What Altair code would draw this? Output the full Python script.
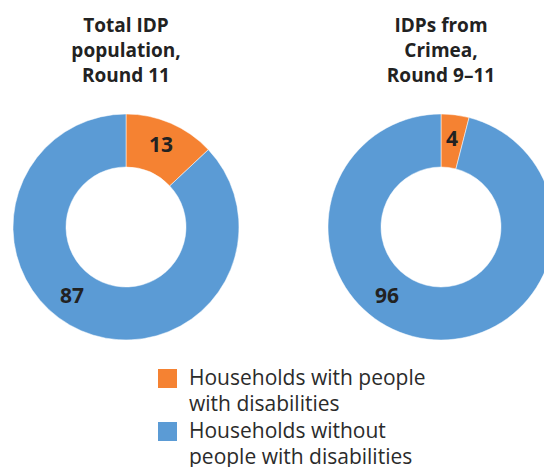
import altair as alt
import pandas as pd

# ---- data ----
panel_titles = [["Total IDP", "population,", "Round 11"], ["IDPs from", "Crimea,", "Round 9–11"]]
categories = ["Households with people with disabilities", "Households without people with disabilities"]
legend_lines = [["Households with people", "with disabilities"], ["Households without", "people with disabilities"]]
with_disab = [13, 4]
without_disab = [87, 96]

colors = ["#F58232", "#5B9BD5"]
FONT = "Open Sans"

label_expr = "datum.label == '%s' ? ['%s', '%s'] : ['%s', '%s']" % (
    categories[0], legend_lines[0][0], legend_lines[0][1], legend_lines[1][0], legend_lines[1][1]
)

CX, CY = 126, 113          # donut centre inside each panel
PANEL_W = [252, 229]        # second panel is cut at the page edge
TITLE_DX = [0, CX - PANEL_W[1] / 2]


def panel(i):
    df = pd.DataFrame({
        "category": categories,
        "value": [with_disab[i], without_disab[i]],
        "order": [0, 1],
    })
    base = alt.Chart(df)
    arcs = base.mark_arc(innerRadius=60, outerRadius=113, stroke="white", strokeWidth=0.5, clip=True).encode(
        x=alt.value(CX),
        y=alt.value(CY),
        theta=alt.Theta("value:Q", stack=True),
        order=alt.Order("order:Q"),
        color=alt.Color(
            "category:N",
            scale=alt.Scale(domain=categories, range=colors),
            legend=alt.Legend(
                title=None,
                orient="none",
                legendX=157,
                legendY=254,
                direction="vertical",
                symbolType="square",
                symbolSize=361,
                symbolStrokeWidth=0,
                labelFont=FONT,
                labelFontSize=21,
                labelColor="#2b2b2b",
                labelOffset=11,
                labelLimit=400,
                labelExpr=label_expr,
                padding=0,
                rowPadding=5,
            ),
        ),
    )
    labels = base.transform_calculate(
        labelPos="datum.order == 0 ? datum.value / 2 : 60.5"
    ).mark_text(
        radius=88, font=FONT, fontSize=21, fontWeight="bold", color="#222222"
    ).encode(
        x=alt.value(CX),
        y=alt.value(CY),
        theta=alt.Theta("labelPos:Q", stack=False, scale=alt.Scale(domain=[0, 100])),
        text=alt.Text("value:Q"),
    )
    return alt.layer(arcs, labels).properties(
        width=PANEL_W[i],
        height=226,
        title=alt.TitleParams(
            text=panel_titles[i],
            font=FONT,
            fontSize=19,
            fontWeight="bold",
            color="#222222",
            lineHeight=25,
            anchor="middle",
            offset=28,
            dx=TITLE_DX[i],
        ),
    )


chart = alt.hconcat(panel(0), panel(1), spacing=63).properties(
    padding={"top": 17, "left": 0, "right": 0, "bottom": 0}
).resolve_scale(color="shared").configure(
    background="white",
    style={"guide-label": {"lineHeight": 26}},
).configure_view(stroke=None)

chart.save("out.html", embed_options={"renderer": "svg", "actions": False})
